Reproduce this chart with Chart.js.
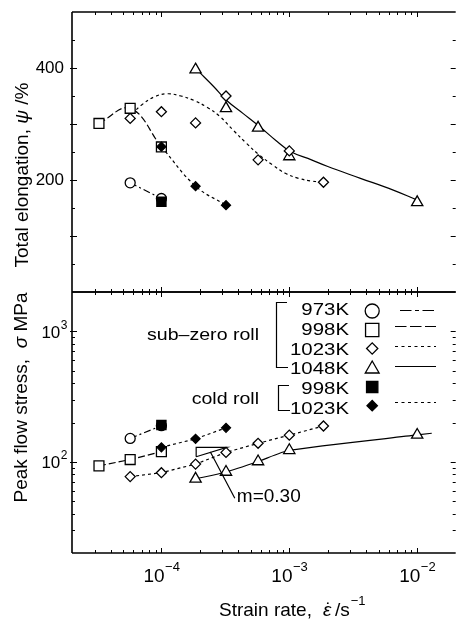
<!DOCTYPE html>
<html>
<head>
<meta charset="utf-8">
<script src="https://cdn.jsdelivr.net/npm/chart.js@4"></script>
<style>
  html, body { margin: 0; padding: 0; background: #fff; }
  #wrap { position: relative; width: 464px; height: 619px; overflow: hidden; }
  canvas { position: absolute; left: 0; top: 0; }
</style>
</head>
<body>
<div id="wrap">
  <canvas id="elong" width="464" height="619"></canvas>
  <canvas id="stress" width="464" height="619"></canvas>
</div>
<script>
// ---- measured data: strain rate (1/s), total elongation (%), peak flow stress (MPa) ----
// sub-zero rolled
const rate973 = [5.7e-5, 1.0e-4];
const elong973 = [195, 167];
const stress973 = [151, 189];

const rate998 = [3.25e-5, 5.7e-5, 1.0e-4];
const elong998 = [301, 328, 259];
const stress998 = [93, 104, 119.5];

const rate1023 = [5.7e-5, 1.0e-4, 1.85e-4, 3.2e-4, 5.7e-4, 1.0e-3, 1.85e-3];
const elong1023 = [310, 322, 302, 350, 236, 252, 196];
const stress1023 = [77, 82.5, 96, 118, 138.5, 160, 188];

const rate1048 = [1.85e-4, 3.2e-4, 5.7e-4, 1.0e-3, 1.0e-2];
const elong1048 = [397, 328, 293, 242, 160];
const stress1048 = [74, 83.5, 100.5, 122.5, 160.5];

// cold rolled
const rateCold998 = [1.0e-4];
const elongCold998 = [161];
const stressCold998 = [191];

const rateCold1023 = [1.0e-4, 1.85e-4, 3.2e-4];
const elongCold1023 = [259.5, 189, 155];
const stressCold1023 = [129, 150, 182];

// smoothed trend curves for elongation
const trend1023Rate = [5.9e-5, 7.0e-5, 8.9e-5, 1.12e-4, 1.42e-4, 1.8e-4, 2.27e-4, 2.88e-4, 3.64e-4, 4.6e-4, 5.8e-4, 7.4e-4, 9.3e-4, 1.18e-3, 1.49e-3, 1.67e-3];
const trend1023Elong = [318, 334, 349, 354, 350, 342, 330, 313, 289, 266, 245, 227, 212, 203, 198, 197];
const trend1048Rate = [1.97e-4, 2.56e-4, 3.24e-4, 4.34e-4, 5.82e-4, 7.81e-4, 1.02e-3, 1.49e-3, 2.0e-3, 3.6e-3, 6.5e-3, 9.8e-3];
const trend1048Elong = [393, 367, 342, 319, 296, 271, 251, 236, 224, 203, 182, 165];
// continuation of the 1048K stress line past the last point
const tail1048Rate = [1.0e-2, 1.3e-2];
const tail1048Stress = [160.5, 165.5];

// strain-rate sensitivity guide
const slopeM = 0.30;
const slopeRate = [1.87e-4, 3.25e-4];
const slopeTopStress = 129;
const leaderRate = [2.41e-4, 3.75e-4];
const leaderStress = [119.4, 52.5];

// axis ranges and labelled ticks
const rateRange = [2e-5, 2e-2];
const elongRange = [0, 500];
const stressRange = [20, 2000];
const rateTicks = [1e-4, 1e-3, 1e-2];
const rateTickExp = ['\u22124', '\u22123', '\u22122'];
const elongTicks = [200, 400];
const stressTicks = [100, 1000];
const stressTickExp = ['2', '3'];

// ---- helpers ----
const FONT = '"Liberation Sans", Arial, Helvetica, sans-serif';
const DASH = { dashDot: [7, 3, 2, 3], dash: [7, 3], dot: [3, 3], solid: [] };

function pts(xs, ys) { return xs.map((x, i) => ({ x, y: ys[i] })); }

function markers(xs, ys, style, r, filled, line) {
  return {
    data: pts(xs, ys),
    pointStyle: style,
    pointRadius: r,
    pointBorderWidth: 1.3,
    pointBorderColor: '#000',
    pointBackgroundColor: filled ? '#000' : '#fff',
    showLine: !!line,
    borderColor: '#000',
    borderWidth: 1.2,
    borderDash: line ? line.dash : [],
    tension: line ? (line.tension || 0) : 0,
    order: filled ? 1 : 5
  };
}

function curve(xs, ys, dash, tension) {
  return {
    data: pts(xs, ys),
    showLine: true,
    pointRadius: 0,
    borderColor: '#000',
    borderWidth: 1.2,
    borderDash: dash,
    tension: tension,
    order: 10
  };
}

function text(ctx, s, x, y, size, o = {}) {
  ctx.save();
  ctx.font = (o.italic ? 'italic ' : '') + size + 'px ' + FONT;
  ctx.fillStyle = '#000';
  ctx.textAlign = o.align || 'left';
  ctx.textBaseline = o.base || 'alphabetic';
  ctx.translate(x, y);
  ctx.scale(o.sx || 1, 1);
  ctx.fillText(s, 0, 0);
  const w = ctx.measureText(s).width * (o.sx || 1);
  ctx.restore();
  return w;
}

function measure(ctx, s, size, italic) {
  ctx.save();
  ctx.font = (italic ? 'italic ' : '') + size + 'px ' + FONT;
  const w = ctx.measureText(s).width;
  ctx.restore();
  return w;
}

function powLabel(ctx, exp, x, baseY, size, supSize, raise, align) {
  const w1 = measure(ctx, '10', size);
  const w2 = measure(ctx, exp, supSize);
  const x0 = align === 'center' ? x - (w1 + w2) / 2 : x - (w1 + w2);
  text(ctx, '10', x0, baseY, size);
  text(ctx, exp, x0 + w1 + 0.5, baseY - raise, supSize);
}

// rotated axis title made of [string, italic] pieces, centred on cy
function yTitle(ctx, pieces, bx, cy, size) {
  const total = pieces.reduce((s, p) => s + measure(ctx, p[0], size, p[1]), 0);
  ctx.save();
  ctx.translate(bx, cy);
  ctx.rotate(-Math.PI / 2);
  let x = -total / 2;
  pieces.forEach(p => { x += text(ctx, p[0], x, 0, size, { italic: p[1] }); });
  ctx.restore();
}

function drawFrame(chart, yTickList) {
  const { ctx, chartArea: a, scales: { x, y } } = chart;
  ctx.save();
  ctx.strokeStyle = '#000';
  ctx.lineWidth = 1.6;
  ctx.beginPath();
  ctx.moveTo(a.left, a.top); ctx.lineTo(a.right, a.top);
  ctx.moveTo(a.left, a.bottom); ctx.lineTo(a.right, a.bottom);
  ctx.moveTo(a.left, a.top); ctx.lineTo(a.left, a.bottom);
  ctx.stroke();
  ctx.lineWidth = 1;
  ctx.beginPath();
  for (let d = -5; d <= -1; d++) {
    for (let k = 1; k <= 9; k++) {
      const v = k * Math.pow(10, d);
      if (v <= x.min * 1.001 || v >= x.max * 0.999) continue;
      const px = Math.round(x.getPixelForValue(v)) + 0.5;
      const len = k === 1 ? 5 : 3;
      ctx.moveTo(px, a.top); ctx.lineTo(px, a.top + len);
      ctx.moveTo(px, a.bottom); ctx.lineTo(px, a.bottom - len);
    }
  }
  yTickList.forEach(([v, major]) => {
    const py = Math.round(y.getPixelForValue(v)) + 0.5;
    const len = major ? 5 : 3;
    ctx.moveTo(a.left - (major ? 2 : 0), py); ctx.lineTo(a.left + len, py);
    ctx.moveTo(a.right, py); ctx.lineTo(a.right - len, py);
  });
  ctx.stroke();
  ctx.restore();
}

function baseOptions(padding, yScale) {
  return {
    responsive: false,
    animation: false,
    events: [],
    devicePixelRatio: 1,
    layout: { padding },
    plugins: { legend: { display: false }, tooltip: { enabled: false } },
    scales: {
      x: { type: 'logarithmic', min: rateRange[0], max: rateRange[1], display: false },
      y: yScale
    }
  };
}

// ---- upper panel: total elongation ----
const elongTickList = [];
for (let v = 50; v < elongRange[1]; v += 50) elongTickList.push([v, v % 100 === 0]);

new Chart(document.getElementById('elong'), {
  type: 'scatter',
  data: {
    datasets: [
      markers(rateCold998, elongCold998, 'rect', 6.5, true, null),
      markers(rateCold1023, elongCold1023, 'rectRot', 4.5, true, { dash: DASH.dot, tension: 0.4 }),
      markers(rate973, elong973, 'circle', 5, false, { dash: DASH.dashDot }),
      markers(rate998, elong998, 'rect', 7, false, { dash: DASH.dash, tension: 0.4 }),
      markers(rate1023, elong1023, 'rectRot', 5, false, null),
      markers(rate1048, elong1048, 'triangle', 6.5, false, null),
      curve(trend1023Rate, trend1023Elong, DASH.dot, 0.4),
      curve(trend1048Rate, trend1048Elong, DASH.solid, 0.4)
    ]
  },
  options: baseOptions({ left: 72, top: 12, right: 0, bottom: 619 - 292 },
    { type: 'linear', min: elongRange[0], max: elongRange[1], display: false }),
  plugins: [{
    id: 'elongDecor',
    afterDraw(chart) {
      const { ctx, scales: { y } } = chart;
      drawFrame(chart, elongTickList);
      elongTicks.forEach(v => text(ctx, String(v), 64, y.getPixelForValue(v), 17, { align: 'right', base: 'middle' }));
      yTitle(ctx, [['Total elongation, ', false], ['\u03C8', true], [' /%', false]], 28, 175, 19);
    }
  }]
});

// ---- lower panel: peak flow stress ----
const stressTickList = [];
for (let d = 1; d <= 3; d++) {
  for (let k = 1; k <= 9; k++) {
    const v = k * Math.pow(10, d);
    if (v > stressRange[0] && v < stressRange[1]) stressTickList.push([v, k === 1]);
  }
}

function drawLegend(ctx) {
  ctx.save();
  ctx.strokeStyle = '#000';
  ctx.fillStyle = '#000';
  text(ctx, 'sub\u2013zero roll', 259, 340, 17, { align: 'right', sx: 1.15 });
  text(ctx, 'cold roll', 259, 404, 17, { align: 'right', sx: 1.15 });

  ctx.lineWidth = 1.2;
  ctx.setLineDash([]);
  ctx.beginPath();
  ctx.moveTo(287, 302.5); ctx.lineTo(276.5, 302.5); ctx.lineTo(276.5, 367.5); ctx.lineTo(288, 367.5);
  ctx.moveTo(289, 385.5); ctx.lineTo(278.5, 385.5); ctx.lineTo(278.5, 410.5); ctx.lineTo(290, 410.5);
  ctx.stroke();

  const rows = [
    { label: '973K',  base: 315,   sym: 'circle',   r: 7,   fill: false, sy: 311,   dash: [11.5, 3.5, 4, 3.5], lx: 400, ly: 310.5 },
    { label: '998K',  base: 335,   sym: 'rect',     r: 9.4, fill: false, sy: 330,   dash: [11.5, 3.5], lx: 395, ly: 326.5 },
    { label: '1023K', base: 354.5, sym: 'rectRot',  r: 5.6, fill: false, sy: 348.5, dash: [3, 3.5], lx: 395, ly: 346.5 },
    { label: '1048K', base: 374,   sym: 'triangle', r: 8,   fill: false, sy: 369,   dash: [], lx: 395, ly: 366.5 },
    { label: '998K',  base: 393.5, sym: 'rect',     r: 8,   fill: true,  sy: 387,   dash: null },
    { label: '1023K', base: 413.5, sym: 'rectRot',  r: 5.2, fill: true,  sy: 405.7, dash: [3, 3.5], lx: 395, ly: 402.5 }
  ];
  rows.forEach(row => {
    text(ctx, row.label, 349, row.base, 17, { align: 'right', sx: 1.2 });
    ctx.save();
    ctx.fillStyle = row.fill ? '#000' : '#fff';
    ctx.strokeStyle = '#000';
    ctx.lineWidth = 1.3;
    Chart.helpers.drawPoint(ctx, { pointStyle: row.sym, radius: row.r, rotation: 0, borderWidth: 1.3 }, 372.2, row.sy);
    ctx.restore();
    if (row.dash) {
      ctx.save();
      ctx.lineWidth = 1.2;
      ctx.setLineDash(row.dash);
      ctx.beginPath();
      ctx.moveTo(row.lx, row.ly); ctx.lineTo(436, row.ly);
      ctx.stroke();
      ctx.restore();
    }
  });
  ctx.restore();
}

new Chart(document.getElementById('stress'), {
  type: 'scatter',
  data: {
    datasets: [
      markers(rateCold998, stressCold998, 'rect', 6.5, true, null),
      markers(rateCold1023, stressCold1023, 'rectRot', 4.5, true, { dash: DASH.dot }),
      markers(rate973, stress973, 'circle', 5, false, { dash: DASH.dashDot }),
      markers(rate998, stress998, 'rect', 7, false, { dash: DASH.dash }),
      markers(rate1023, stress1023, 'rectRot', 5, false, { dash: DASH.dot }),
      markers(rate1048, stress1048, 'triangle', 6.5, false, { dash: DASH.solid, tension: 0.2 }),
      curve(tail1048Rate, tail1048Stress, DASH.solid, 0)
    ]
  },
  options: baseOptions({ left: 72, top: 292, right: 0, bottom: 619 - 553 },
    { type: 'logarithmic', min: stressRange[0], max: stressRange[1], display: false }),
  plugins: [{
    id: 'stressDecor',
    afterDatasetsDraw(chart) {
      const { ctx, scales: { x, y } } = chart;
      const X = v => x.getPixelForValue(v);
      const Y = v => y.getPixelForValue(v);
      const bottomStress = slopeTopStress * Math.pow(slopeRate[0] / slopeRate[1], slopeM);
      ctx.save();
      ctx.strokeStyle = '#000';
      ctx.lineWidth = 1.2;
      ctx.beginPath();
      ctx.moveTo(X(slopeRate[0]), Y(bottomStress));
      ctx.lineTo(X(slopeRate[0]), Y(slopeTopStress));
      ctx.lineTo(X(slopeRate[1]), Y(slopeTopStress));
      ctx.lineTo(X(slopeRate[0]), Y(bottomStress));
      ctx.moveTo(X(leaderRate[0]), Y(leaderStress[0]));
      ctx.lineTo(X(leaderRate[1]), Y(leaderStress[1]));
      ctx.stroke();
      ctx.restore();
      text(ctx, 'm=' + slopeM.toFixed(2), X(leaderRate[1]) + 2, Y(leaderStress[1]) + 4, 19);
    },
    afterDraw(chart) {
      const { ctx, scales: { x, y } } = chart;
      drawFrame(chart, stressTickList);
      stressTicks.forEach((v, i) => powLabel(ctx, stressTickExp[i], 67, y.getPixelForValue(v) + 6.3, 17, 12, 9, 'right'));
      rateTicks.forEach((v, i) => powLabel(ctx, rateTickExp[i], x.getPixelForValue(v), 581.7, 19, 13, 11, 'center'));
      yTitle(ctx, [['Peak flow stress,  ', false], ['\u03C3', true], [' MPa', false]], 27, 397.5, 19);

      // x-axis title with strain-rate symbol (epsilon with a dot above)
      text(ctx, 'Strain rate,', 219, 615.7, 19);
      const ex = 323;
      const ew = text(ctx, '\u03B5', ex, 615.7, 19, { italic: true });
      text(ctx, '\u02D9', ex + ew / 2 + 1.5, 615.7, 19, { align: 'center' });
      const sw = text(ctx, '/s', 335, 615.7, 19);
      text(ctx, '\u22121', 335 + sw + 1, 604.7, 13);

      drawLegend(ctx);
    }
  }]
});
</script>
</body>
</html>
